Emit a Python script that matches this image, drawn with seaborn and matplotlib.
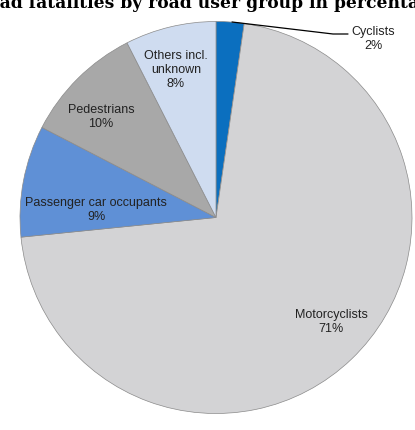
import matplotlib
matplotlib.use("Agg")
import matplotlib.pyplot as plt
import seaborn as sns

# road user groups, clockwise from 12 o'clock
groups = ["Cyclists", "Motorcyclists", "Passenger car occupants", "Pedestrians", "Others incl.\nunknown"]
shares = [2.3, 71.1, 9.2, 9.9, 7.5]
pct_labels = ["2%", "71%", "9%", "10%", "8%"]
colors = ["#0b6fbf", "#d3d3d5", "#5f90d6", "#a8a8a8", "#cfdcf0"]

sns.set_theme(style="white")
plt.rcParams["font.family"] = ["Liberation Sans", "DejaVu Sans"]

W, H = 415, 430
fig = plt.figure(figsize=(W / 100, H / 100), dpi=100)

cx, cy, r = 216, 217.5, 196
ax = fig.add_axes([(cx - r) / W, (H - cy - r) / H, 2 * r / W, 2 * r / H])
ax.pie(shares, colors=colors, startangle=90, counterclock=False,
       wedgeprops=dict(edgecolor="#8a8a8a", linewidth=0.5))
ax.set_xlim(-1, 1)
ax.set_ylim(-1, 1)
ax.set_aspect("equal")
ax.axis("off")


def px(x, y):
    return (x - cx) / r, (cy - y) / r


# label spots in pixel coords
spots = [None, (331, 322), (96, 210), (101, 117), (176, 70)]
for name, pct, spot in zip(groups, pct_labels, spots):
    if spot is None:
        continue
    ax.text(*px(*spot), name + "\n" + pct, ha="center", va="center",
            fontsize=9, color="#222222", linespacing=1.25)

# cyclists gets a leader line
ax.plot(*zip(px(232, 22), px(333, 34), px(348, 34)), color="black", lw=0.9,
        clip_on=False)
ax.text(*px(373, 39), groups[0] + "\n" + pct_labels[0], ha="center", va="center",
        fontsize=9, color="#222222", linespacing=1.25, clip_on=False)

fig.text(0.5, 1 - 8 / H, "Road fatalities by road user group in percentage",
         ha="center", va="baseline", fontsize=12.3, fontweight="bold",
         family=["DejaVu Serif"], color="black")

fig.savefig("out.png", dpi=100, facecolor="white")
